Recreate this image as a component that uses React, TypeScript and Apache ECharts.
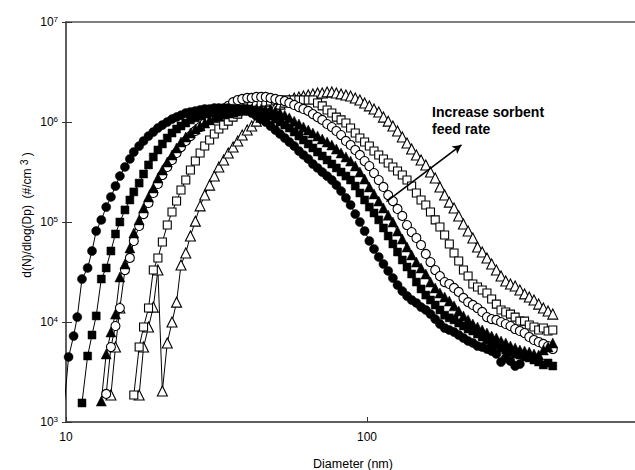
import React, { useEffect, useRef } from "react";
import * as echarts from "echarts";

// SMPS channel mid-point diameters (nm); first entry lies just below the axis minimum
const DIAMETERS = [
  9.87, 10.2, 10.6, 10.9, 11.3, 11.8, 12.2, 12.6, 13.1, 13.6, 14.1, 14.6, 15.1, 15.7, 16.3, 16.8,
  17.5, 18.1, 18.8, 19.5, 20.2, 20.9, 21.7, 22.5, 23.3, 24.1, 25.0, 25.9, 26.9, 27.9, 28.9, 30.0,
  31.1, 32.2, 33.4, 34.6, 35.9, 37.2, 38.5, 40.0, 41.4, 42.9, 44.5, 46.1, 47.8, 49.6, 51.4, 53.3,
  55.2, 57.3, 59.4, 61.5, 63.8, 66.1, 68.5, 71.0, 73.7, 76.4, 79.1, 82.0, 85.1, 88.2, 91.4, 94.7,
  98.2, 101.8, 105.5, 109.4, 113.4, 117.6, 121.9, 126.3, 131.0, 135.8, 140.7, 145.9, 151.2, 156.8,
  162.5, 168.5, 174.7, 181.1, 187.7, 194.6, 201.7, 209.1, 216.7, 224.7, 232.9, 241.4, 250.3, 259.5,
  269.0, 278.8, 289.0, 299.6, 310.6, 322.0, 333.8, 346.0, 358.7, 371.8, 385.4, 399.5, 414.2,
];

// Each series: index of its first diameter in DIAMETERS, then dN/dlogDp values (#/cm3)
const FILLED_CIRCLE_START = 0;
const FILLED_CIRCLE = [
  1.51e3, 4.47e3, 7.24e3, 1.12e4, 2.69e4, 3.47e4, 5.13e4, 8.13e4, 1.05e5, 1.41e5, 1.78e5, 2.29e5,
  2.88e5, 3.55e5, 4.27e5, 5.01e5, 5.75e5, 6.46e5, 7.24e5, 7.94e5, 8.71e5, 9.33e5, 1.0e6, 1.07e6,
  1.12e6, 1.17e6, 1.23e6, 1.26e6, 1.29e6, 1.32e6, 1.35e6, 1.35e6, 1.38e6, 1.38e6, 1.38e6, 1.38e6,
  1.36e6, 1.35e6, 1.35e6, 1.29e6, 1.23e6, 1.15e6, 1.07e6, 1.0e6, 9.12e5, 8.32e5, 7.59e5, 6.92e5,
  6.31e5, 5.75e5, 5.13e5, 4.68e5, 4.27e5, 3.8e5, 3.47e5, 3.16e5, 2.88e5, 2.63e5, 2.34e5, 2.04e5,
  1.74e5, 1.48e5, 1.2e5, 1.0e5, 8.13e4, 6.46e4, 5.37e4, 4.47e4, 3.8e4, 3.24e4, 2.75e4, 2.34e4,
  2.04e4, 1.82e4, 1.66e4, 1.55e4, 1.41e4, 1.32e4, 1.2e4, 1.07e4, 9.55e3, 8.71e3, 8.32e3, 7.94e3,
  7.41e3, 6.92e3, 6.46e3, 6.17e3, 5.75e3, 5.62e3, 5.37e3, 5.13e3, 4.79e3, 3.98e3, 4.37e3, 4.07e3,
  3.63e3, 3.8e3,
];

const FILLED_SQUARE_START = 4;
const FILLED_SQUARE = [
  1.55e3, 4.57e3, 7.41e3, 1.15e4, 2.69e4, 3.47e4, 5.13e4, 7.59e4, 1.0e5, 1.32e5, 1.66e5, 2.0e5,
  2.45e5, 3.02e5, 3.72e5, 4.47e5, 5.25e5, 6.03e5, 6.92e5, 7.76e5, 8.51e5, 9.12e5, 9.77e5, 1.05e6,
  1.1e6, 1.15e6, 1.2e6, 1.23e6, 1.26e6, 1.29e6, 1.32e6, 1.32e6, 1.35e6, 1.35e6, 1.35e6, 1.35e6,
  1.32e6, 1.29e6, 1.26e6, 1.2e6, 1.15e6, 1.07e6, 1.0e6, 9.33e5, 8.71e5, 7.94e5, 7.24e5, 6.61e5,
  6.03e5, 5.5e5, 5.01e5, 4.57e5, 4.17e5, 3.8e5, 3.47e5, 3.16e5, 2.88e5, 2.63e5, 2.29e5, 1.95e5,
  1.66e5, 1.41e5, 1.23e5, 1.05e5, 8.71e4, 7.24e4, 6.03e4, 5.01e4, 4.17e4, 3.55e4, 3.02e4, 2.51e4,
  2.14e4, 1.86e4, 1.66e4, 1.48e4, 1.32e4, 1.17e4, 1.1e4, 1.05e4, 9.77e3, 9.12e3, 8.51e3, 8.13e3,
  7.59e3, 7.08e3, 6.61e3, 6.17e3, 5.89e3, 5.5e3, 5.25e3, 5.01e3, 4.79e3, 4.68e3, 4.47e3, 4.37e3,
  4.17e3, 3.98e3, 3.72e3, 3.89e3, 3.63e3,
];

const FILLED_TRIANGLE_START = 8;
const FILLED_TRIANGLE = [
  1.62e3, 4.79e3, 7.94e3, 1.2e4, 2.82e4, 3.8e4, 5.5e4, 7.76e4, 1.05e5, 1.38e5, 1.78e5, 2.19e5,
  2.75e5, 3.31e5, 3.98e5, 4.68e5, 5.5e5, 6.31e5, 7.08e5, 7.76e5, 8.51e5, 9.12e5, 9.77e5, 1.05e6,
  1.1e6, 1.15e6, 1.2e6, 1.23e6, 1.26e6, 1.29e6, 1.32e6, 1.35e6, 1.35e6, 1.35e6, 1.35e6, 1.32e6,
  1.32e6, 1.29e6, 1.23e6, 1.17e6, 1.1e6, 1.02e6, 9.55e5, 8.91e5, 8.32e5, 7.76e5, 7.24e5, 6.76e5,
  6.31e5, 5.89e5, 5.37e5, 4.9e5, 4.47e5, 4.07e5, 3.63e5, 3.16e5, 2.69e5, 2.24e5, 1.91e5, 1.62e5,
  1.38e5, 1.17e5, 1.0e5, 8.13e4, 6.76e4, 5.62e4, 4.68e4, 3.98e4, 3.47e4, 3.02e4, 2.51e4, 2.19e4,
  1.95e4, 1.78e4, 1.62e4, 1.45e4, 1.29e4, 1.15e4, 1.05e4, 9.55e3, 8.91e3, 8.32e3, 7.76e3, 7.24e3,
  6.92e3, 6.46e3, 6.17e3, 5.75e3, 5.5e3, 5.25e3, 5.13e3, 5.01e3, 4.79e3, 4.68e3, 5.25e3, 5.62e3,
  6.17e3,
];

const OPEN_CIRCLE_START = 9;
const OPEN_CIRCLE = [
  1.91e3, 5.62e3, 9.12e3, 1.38e4, 3.31e4, 4.37e4, 6.46e4, 9.12e4, 1.2e5, 1.55e5, 1.95e5, 2.4e5,
  2.95e5, 3.55e5, 4.17e5, 4.9e5, 5.62e5, 6.46e5, 7.24e5, 8.13e5, 8.91e5, 9.77e5, 1.07e6, 1.15e6,
  1.23e6, 1.32e6, 1.45e6, 1.58e6, 1.66e6, 1.7e6, 1.74e6, 1.74e6, 1.78e6, 1.78e6, 1.78e6, 1.74e6,
  1.7e6, 1.66e6, 1.62e6, 1.55e6, 1.48e6, 1.41e6, 1.35e6, 1.29e6, 1.2e6, 1.12e6, 1.05e6, 9.55e5,
  8.91e5, 8.13e5, 7.41e5, 6.46e5, 5.89e5, 5.25e5, 4.68e5, 4.07e5, 3.63e5, 3.09e5, 2.63e5, 2.24e5,
  1.86e5, 1.62e5, 1.35e5, 1.15e5, 9.33e4, 7.94e4, 6.92e4, 5.89e4, 4.79e4, 3.98e4, 3.31e4, 2.88e4,
  2.51e4, 2.4e4, 2.19e4, 2.0e4, 1.74e4, 1.58e4, 1.48e4, 1.38e4, 1.26e4, 1.12e4, 1.07e4, 1.05e4,
  1.0e4, 9.55e3, 9.12e3, 8.51e3, 8.13e3, 7.76e3, 7.08e3, 6.61e3, 6.31e3, 6.03e3, 5.75e3, 5.37e3,
];

const OPEN_SQUARE_START = 15;
const OPEN_SQUARE = [
  1.86e3, 5.62e3, 8.91e3, 1.38e4, 3.31e4, 4.37e4, 6.31e4, 9.33e4, 1.26e5, 1.62e5, 2.09e5, 2.63e5,
  3.31e5, 4.07e5, 4.9e5, 5.75e5, 6.61e5, 7.59e5, 8.51e5, 9.33e5, 1.02e6, 1.12e6, 1.2e6, 1.29e6,
  1.38e6, 1.45e6, 1.51e6, 1.55e6, 1.58e6, 1.62e6, 1.66e6, 1.66e6, 1.66e6, 1.66e6, 1.66e6, 1.66e6,
  1.66e6, 1.66e6, 1.66e6, 1.55e6, 1.45e6, 1.32e6, 1.23e6, 1.12e6, 1.05e6, 9.77e5, 8.71e5, 7.76e5,
  6.92e5, 6.31e5, 5.75e5, 5.13e5, 4.68e5, 4.27e5, 3.89e5, 3.55e5, 3.24e5, 2.95e5, 2.63e5, 2.29e5,
  1.95e5, 1.66e5, 1.48e5, 1.26e5, 1.05e5, 8.91e4, 7.41e4, 6.03e4, 4.9e4, 4.07e4, 3.31e4, 2.88e4,
  2.4e4, 2.24e4, 2.09e4, 1.95e4, 1.7e4, 1.51e4, 1.32e4, 1.26e4, 1.2e4, 1.12e4, 1.02e4, 1.02e4,
  9.33e3, 8.91e3, 8.32e3, 8.71e3, 8.13e3, 8.32e3,
];

const OPEN_TRIANGLE_START = 16;
const OPEN_TRIANGLE = [
  1.86e3, 5.62e3, 8.91e3, 1.41e4, 3.31e4, 2.04e3, 6.17e3, 1.0e4, 1.58e4, 3.72e4, 4.9e4, 7.24e4,
  1.02e5, 1.45e5, 1.86e5, 2.34e5, 2.88e5, 3.55e5, 4.17e5, 4.9e5, 5.62e5, 6.46e5, 7.41e5, 8.32e5,
  9.12e5, 1.02e6, 1.12e6, 1.2e6, 1.32e6, 1.41e6, 1.51e6, 1.58e6, 1.66e6, 1.74e6, 1.78e6, 1.82e6,
  1.86e6, 1.91e6, 1.95e6, 1.95e6, 2.0e6, 2.0e6, 1.95e6, 1.91e6, 1.86e6, 1.82e6, 1.74e6, 1.66e6,
  1.55e6, 1.45e6, 1.35e6, 1.26e6, 1.12e6, 1.02e6, 9.12e5, 8.13e5, 7.08e5, 6.17e5, 5.37e5, 4.68e5,
  4.17e5, 3.72e5, 3.16e5, 2.75e5, 2.24e5, 1.86e5, 1.58e5, 1.38e5, 1.15e5, 9.55e4, 8.13e4, 6.92e4,
  5.62e4, 5.01e4, 4.37e4, 3.8e4, 3.31e4, 2.88e4, 2.57e4, 2.4e4, 2.29e4, 2.09e4, 1.91e4, 1.78e4,
  1.66e4, 1.51e4, 1.38e4, 1.29e4, 1.2e4,
];

// short run of open triangles visible beside the open circles at the small-size end
const OPEN_TRIANGLE_B_START = 10;
const OPEN_TRIANGLE_B = [1.86e3, 5.62e3, 1.38e4];

const X_MIN = 10;
const X_MAX = 1000;
const Y_MIN = 1e3;
const Y_MAX = 1e7;

const ARROW_FROM = [116, 1.6e5];
const ARROW_TO = [206, 5.9e5];
const ANNOTATION = "Increase sorbent\nfeed rate";
const X_TITLE = "Diameter (nm)";

const FONT = "'Liberation Sans', Arial, Helvetica, sans-serif";
const AXIS_COLOR = "#555";

function toPoints(start: number, values: number[]) {
  return values.map((v, i) => [DIAMETERS[start + i], v]);
}

function makeSeries(name: string, start: number, values: number[], symbol: string, size: number, filled: boolean, extra: any = {}) {
  return {
    name,
    type: "line",
    data: toPoints(start, values),
    symbol,
    symbolSize: size,
    showSymbol: true,
    clip: true,
    silent: true,
    lineStyle: { color: "#000", width: 1 },
    itemStyle: filled
      ? { color: "#000", borderColor: "#000", borderWidth: 0.5 }
      : { color: "#fff", borderColor: "#000", borderWidth: 1.1 },
    emphasis: { disabled: true },
    ...extra,
  };
}

export default function App() {
  const ref = useRef<HTMLDivElement>(null);

  useEffect(() => {
    if (!ref.current) return;
    const chart = echarts.init(ref.current, undefined, { renderer: "svg" });

    const series: any[] = [
      makeSeries("open triangle b", OPEN_TRIANGLE_B_START, OPEN_TRIANGLE_B, "triangle", 10, false),
      makeSeries("open triangle", OPEN_TRIANGLE_START, OPEN_TRIANGLE, "triangle", 10, false),
      makeSeries("open square", OPEN_SQUARE_START, OPEN_SQUARE, "rect", 8, false),
      makeSeries("open circle", OPEN_CIRCLE_START, OPEN_CIRCLE, "circle", 9, false),
      makeSeries("filled triangle", FILLED_TRIANGLE_START, FILLED_TRIANGLE, "triangle", 10, true),
      makeSeries("filled square", FILLED_SQUARE_START, FILLED_SQUARE, "rect", 8, true),
      makeSeries("filled circle", FILLED_CIRCLE_START, FILLED_CIRCLE, "circle", 9, true, {
        markLine: {
          silent: true,
          symbol: ["none", "arrow"],
          symbolSize: [7, 9],
          label: { show: false },
          lineStyle: { color: "#000", width: 1.6, type: "solid" },
          emphasis: { disabled: true },
          data: [[{ coord: ARROW_FROM }, { coord: ARROW_TO }]],
        },
      }),
    ];

    chart.setOption({
      animation: false,
      backgroundColor: "#fff",
      grid: {
        left: 66,
        top: 22,
        width: 602,
        height: 400,
        show: true,
        borderColor: AXIS_COLOR,
        borderWidth: 1.5,
        containLabel: false,
        outerBoundsMode: "none",
      },
      xAxis: {
        type: "log",
        logBase: 10,
        min: X_MIN,
        max: X_MAX,
        axisLine: { show: true, lineStyle: { color: AXIS_COLOR, width: 1.5 } },
        axisTick: { show: true, inside: true, length: 5, lineStyle: { color: "#333", width: 1 } },
        minorTick: { show: false },
        splitLine: { show: false },
        axisLabel: {
          fontSize: 12,
          fontFamily: FONT,
          color: "#000",
          margin: 9,
          showMaxLabel: false,
        },
      },
      yAxis: [
        {
          type: "log",
          logBase: 10,
          min: Y_MIN,
          max: Y_MAX,
          axisLine: { show: true, lineStyle: { color: AXIS_COLOR, width: 1.5 } },
          axisTick: { show: true, inside: false, length: 4, lineStyle: { color: "#333", width: 1 } },
          splitLine: { show: false },
          axisLabel: {
            margin: 8,
            formatter: (v: number) => `{b|10}{s|${Math.round(Math.log10(v))}}`,
            rich: {
              b: { fontSize: 12, fontFamily: FONT, color: "#000", lineHeight: 14 },
              s: { fontSize: 8, fontFamily: FONT, color: "#000", lineHeight: 8, verticalAlign: "top" },
            },
          },
        },
        {
          type: "log",
          logBase: 10,
          min: Y_MIN,
          max: Y_MAX,
          position: "left",
          axisLine: { show: false },
          axisTick: { show: true, inside: true, length: 6, lineStyle: { color: "#333", width: 1 } },
          splitLine: { show: false },
          axisLabel: { show: false },
        },
      ],
      graphic: [
        {
          type: "text",
          left: 432,
          top: 103,
          silent: true,
          style: {
            text: ANNOTATION,
            fontSize: 14,
            fontWeight: "bold",
            fontFamily: FONT,
            fill: "#000",
            lineHeight: 17,
          },
        },
        {
          type: "text",
          x: 353,
          y: 464,
          silent: true,
          style: {
            text: X_TITLE,
            fontSize: 12.5,
            fontFamily: FONT,
            fill: "#000",
            align: "center",
            verticalAlign: "middle",
          },
        },
        {
          type: "text",
          x: 27,
          y: 215,
          rotation: Math.PI / 2,
          silent: true,
          style: {
            text: "{a|d(N)/dlog(Dp)  (#/cm }{s|3}{a| )}",
            align: "center",
            verticalAlign: "middle",
            rich: {
              a: { fontSize: 12, fontFamily: FONT, fill: "#000", lineHeight: 15 },
              s: { fontSize: 10, fontFamily: FONT, fill: "#000", lineHeight: 10, verticalAlign: "top" },
            },
          },
        },
      ],
      series,
    });

    return () => {
      chart.dispose();
    };
  }, []);

  return (
    <div
      ref={ref}
      style={{ position: "absolute", left: 0, top: 0, width: 635, height: 470, overflow: "hidden" }}
    />
  );
}
